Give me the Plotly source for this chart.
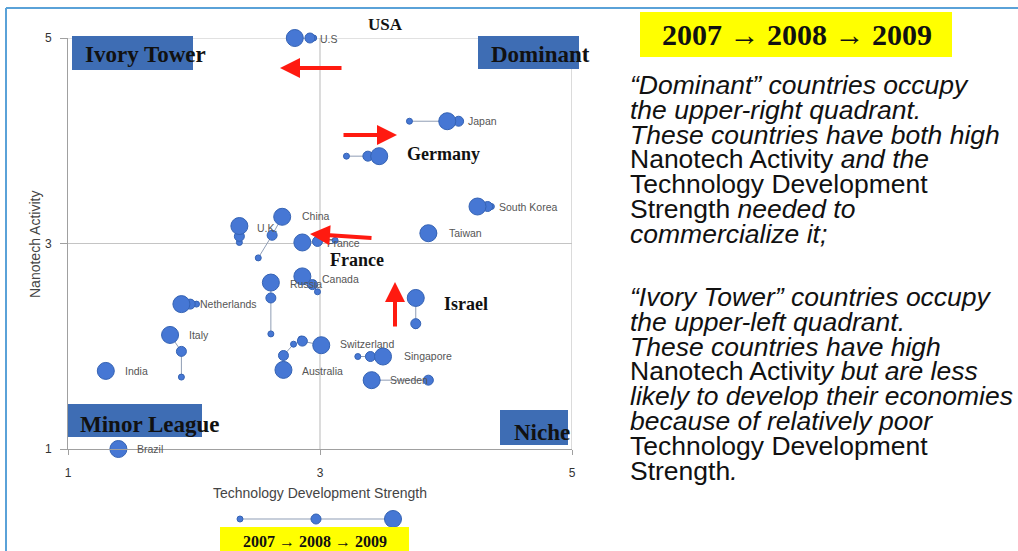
import plotly.graph_objects as go

# --- data: nanotech activity vs technology development strength, 2007 -> 2009
countries = ["U.S", "Japan", "Germany", "South Korea", "Taiwan", "China", "U.K.",
             "France", "Russia", "Canada", "Netherlands", "Italy", "India", "Brazil",
             "Switzerland", "Australia", "Singapore", "Sweden", "Israel"]
tech_2007 = [2.95, 3.71, 3.21, 4.36, 3.90, 2.51, 2.36, 3.12, 2.61, 2.98, 2.02, 1.90, 1.32, 1.42,
             2.85, 2.79, 3.30, 3.87, 3.76]
tech_2008 = [2.92, 4.10, 3.38, 4.33, 3.88, 2.62, 2.36, 2.98, 2.61, 2.94, 1.97, 1.90, 1.31, 1.41,
             2.86, 2.71, 3.40, 3.86, 3.76]
tech_2009 = [2.80, 4.01, 3.47, 4.25, 3.86, 2.70, 2.36, 2.86, 2.61, 2.86, 1.90, 1.81, 1.30, 1.40,
             3.01, 2.71, 3.50, 3.41, 3.76]
nano_2007 = [5.00, 4.19, 3.85, 3.36, 3.10, 2.86, 3.01, 3.03, 2.12, 2.53, 2.41, 1.70, 1.76, 1.00,
             2.07, 2.02, 1.90, 1.67, 2.20]
nano_2008 = [5.00, 4.19, 3.85, 3.36, 3.10, 3.08, 3.07, 3.02, 2.47, 2.60, 2.41, 1.95, 1.76, 1.00,
             2.05, 1.91, 1.90, 1.67, 2.22]
nano_2009 = [5.00, 4.19, 3.85, 3.36, 3.10, 3.26, 3.17, 3.01, 2.62, 2.68, 2.41, 2.11, 1.76, 1.00,
             2.01, 1.77, 1.90, 1.67, 2.47]
years = ["2007", "2008", "2009"]
quadrants = ["Ivory Tower", "Dominant", "Minor League", "Niche"]
axis_ticks = [1, 3, 5]

W, H = 1018, 551
L, R, T, B = 68, 572, 38, 449   # plot area in pixels


def px(x):
    return (x - L) / (R - L)


def py(y):
    return (B - y) / (B - T)


DOT = "#4677D4"
DOT_EDGE = "#3563B4"
SANS = "Liberation Sans, Arial, sans-serif"
SERIF = "Liberation Serif, Times New Roman, serif"

fig = go.Figure()

for i, c in enumerate(countries):
    fig.add_trace(go.Scatter(
        x=[tech_2007[i], tech_2008[i], tech_2009[i]],
        y=[nano_2007[i], nano_2008[i], nano_2009[i]],
        mode="lines+markers", name=c, cliponaxis=False, showlegend=False,
        hovertext=years, line=dict(color="#8f9db5", width=1),
        marker=dict(size=[6, 10, 17], color=DOT, opacity=1, line=dict(color=DOT_EDGE, width=1))))

shapes = []
# quadrant grid lines
for v in [3, 5]:
    shapes.append(dict(type="line", xref="x", yref="y", x0=v, x1=v, y0=1, y1=5,
                       line=dict(color="#c4c4c4", width=1.2), layer="below"))
    shapes.append(dict(type="line", xref="x", yref="y", x0=1, x1=5, y0=v, y1=v,
                       line=dict(color="#c4c4c4", width=1.2), layer="below"))

# outer frame of the slide
shapes.append(dict(type="line", xref="paper", yref="paper", x0=px(6), x1=px(6), y0=py(8), y1=py(551),
                   line=dict(color="#5aa2d8", width=2)))
shapes.append(dict(type="line", xref="paper", yref="paper", x0=px(6), x1=px(1018), y0=py(8), y1=py(8),
                   line=dict(color="#5aa2d8", width=2)))

annotations = []


def note(x, y, text, size, family=SANS, color="#111111", xanchor="center", **kw):
    d = dict(xref="paper", yref="paper", x=px(x), y=py(y), text=text, showarrow=False,
             xanchor=xanchor, yanchor="middle", font=dict(family=family, size=size, color=color))
    d.update(kw)
    annotations.append(d)


# quadrant labels on blue boxes
quad_boxes = [(72, 193, 36, 70, 83, 55), (478, 579, 36, 69, 489, 55),
              (68, 202, 404, 437, 78, 424), (500, 568, 410, 445, 512, 432)]
for name, (x0, x1, y0, y1, tx, ty) in zip(quadrants, quad_boxes):
    shapes.append(dict(type="rect", xref="paper", yref="paper", x0=px(x0), x1=px(x1),
                       y0=py(y1), y1=py(y0), fillcolor="#3E6DB4", line=dict(width=0)))
    note(tx, ty, "<b>%s</b>" % name, 23, family=SERIF, xanchor="left")

# small country labels
label_pos = {"U.S": (318, 39), "Japan": (466, 121), "South Korea": (497, 207), "Taiwan": (447, 233),
             "China": (300, 216), "U.K.": (255, 228), "France": (325, 243), "Russia": (288, 284),
             "Canada": (320, 279), "Netherlands": (198, 304), "Italy": (187, 335), "India": (123, 371),
             "Brazil": (135, 449), "Switzerland": (338, 344), "Australia": (300, 371),
             "Singapore": (402, 356), "Sweden": (388, 380)}
for c in countries:
    if c in label_pos:
        lx, ly = label_pos[c]
        note(lx, ly, c, 10.5, color="#555555", xanchor="left")

# big bold callouts
note(385, 24, "<b>USA</b>", 17, family=SERIF, bgcolor="white")
note(443, 154, "<b>Germany</b>", 18, family=SERIF)
note(357, 260, "<b>France</b>", 18, family=SERIF)
note(466, 304, "<b>Israel</b>", 18, family=SERIF)

# red movement arrows (tip, tail offset)
for (tx, ty), (ax, ay) in [((280, 68), (63, 0)), ((397, 135), (-55, 0)),
                           ((310, 234), (63, 4)), ((395, 282), (0, 46))]:
    annotations.append(dict(xref="paper", yref="paper", x=px(tx), y=py(ty), ax=ax, ay=ay, text="",
                            showarrow=True, arrowhead=2, arrowsize=1, arrowwidth=4, arrowcolor="#FF1A10"))

# axis titles
note(320, 493, "Technology Development Strength", 14, color="#444444")
note(35, 245, "Nanotech Activity", 14, color="#444444", textangle=-90)

# year key below the chart
key_x = [240, 316, 393]
key_s = [6, 10, 17]
shapes.append(dict(type="line", xref="paper", yref="paper", x0=px(240), x1=px(393), y0=py(519), y1=py(519),
                   line=dict(color="#8f9db5", width=1)))
for kx, ks in zip(key_x, key_s):
    r = ks / 2
    shapes.append(dict(type="circle", xref="paper", yref="paper", x0=px(kx - r), x1=px(kx + r),
                       y0=py(519 + r), y1=py(519 - r), fillcolor=DOT, line=dict(color=DOT_EDGE, width=1)))
year_chain = " \u2192 ".join(years)
shapes.append(dict(type="rect", xref="paper", yref="paper", x0=px(220), x1=px(409), y0=py(553), y1=py(527),
                   fillcolor="#FFFF00", line=dict(width=0)))
note(315, 541, "<b>%s</b>" % year_chain, 16, family=SERIF)

# right-hand panel
shapes.append(dict(type="rect", xref="paper", yref="paper", x0=px(640), x1=px(952), y0=py(57), y1=py(12),
                   fillcolor="#FFFF00", line=dict(width=0)))
note(797, 35, "<b>%s</b>" % year_chain, 30, family=SERIF)

block1 = ["<i>\u201cDominant\u201d countries occupy</i>",
          "<i>the upper-right quadrant.</i>",
          "<i>These countries have both high</i>",
          "Nanotech Activity <i>and the</i>",
          "Technology Development",
          "Strength <i>needed to</i>",
          "<i>commercialize it;</i>"]
block2 = ["<i>\u201cIvory Tower\u201d countries occupy</i>",
          "<i>the upper-left quadrant.</i>",
          "<i>These countries have high</i>",
          "Nanotech Activit<i>y but are less</i>",
          "<i>likely to develop their economies</i>",
          "<i>because of relatively poor</i>",
          "Technology Development",
          "Strength<i>.</i>"]
for start, block in [(85, block1), (297, block2)]:
    for k, line in enumerate(block):
        note(628, start + k * 24.8, line, 26.5, xanchor="left")

fig.update_layout(
    width=W, height=H, margin=dict(l=L, r=W - R, t=T, b=H - B),
    paper_bgcolor="white", plot_bgcolor="white",
    xaxis=dict(range=[1, 5], tickvals=axis_ticks, showgrid=False, zeroline=False, showline=True,
               linecolor="#a0a0a0", ticks="outside", ticklen=5, tickcolor="#a0a0a0", ticklabelstandoff=8,
               tickfont=dict(family=SANS, size=12, color="#333333")),
    yaxis=dict(range=[1, 5], tickvals=axis_ticks, showgrid=False, zeroline=False, showline=True,
               linecolor="#a0a0a0", ticks="outside", ticklen=7, tickcolor="#a0a0a0", ticklabelstandoff=6,
               tickfont=dict(family=SANS, size=12, color="#333333")),
    shapes=shapes, annotations=annotations, hovermode="closest")

# drop the browser's default 8px page margin so the figure sits at the window origin
fig.write_html("out.html", config={"displayModeBar": False},
               post_script="document.body.style.margin='0';")
